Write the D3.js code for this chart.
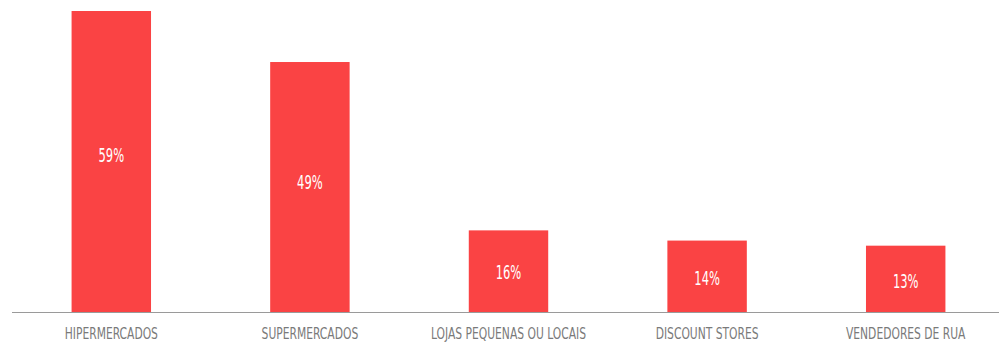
<!DOCTYPE html>
<html>
<head>
<meta charset="utf-8">
<script src="https://cdn.jsdelivr.net/npm/d3@7"></script>
<style>
  html, body { margin: 0; padding: 0; background: #fff; }
  #chart { width: 999px; height: 343px; }
  text { font-family: "DejaVu Sans Condensed", "DejaVu Sans", sans-serif; }
</style>
</head>
<body>
<div id="chart"></div>
<script>
// dados
const categories = ['HIPERMERCADOS', 'SUPERMERCADOS', 'LOJAS PEQUENAS OU LOCAIS', 'DISCOUNT STORES', 'VENDEDORES DE RUA'];
const values = [59, 49, 16, 14, 13];

const width = 999;
const height = 343;
const baseline = 312;

const svg = d3.select('#chart')
  .append('svg')
  .attr('width', width)
  .attr('height', height);

const x = d3.scaleBand()
  .domain(categories)
  .range([12, 1005])
  .paddingInner(0.6)
  .paddingOuter(0.3);

const y = d3.scaleLinear()
  .domain([0, 59])
  .range([baseline, 11]);

const rows = categories.map((c, i) => ({ name: c, value: values[i] }));
const cx = d => x(d.name) + x.bandwidth() / 2;

// barras
svg.append('g')
  .selectAll('rect')
  .data(rows)
  .join('rect')
  .attr('x', d => x(d.name))
  .attr('y', d => y(d.value))
  .attr('width', x.bandwidth())
  .attr('height', d => y(0) - y(d.value))
  .attr('fill', '#fa4344');

// eixo
svg.append('line')
  .attr('x1', 12)
  .attr('x2', width)
  .attr('y1', baseline + 0.5)
  .attr('y2', baseline + 0.5)
  .attr('stroke', '#9a9a9a')
  .attr('stroke-width', 1.2);

// valores (fonte estreita simulada com scaleX)
svg.append('g')
  .selectAll('text')
  .data(rows)
  .join('text')
  .attr('transform', d => {
    const h = y(0) - y(d.value);
    return `translate(${cx(d)},${y(d.value) + h * 0.464 + 4}) scale(0.64,1)`;
  })
  .attr('text-anchor', 'middle')
  .attr('dominant-baseline', 'central')
  .attr('fill', '#fff')
  .style('font-size', '20px')
  .text(d => d.value + '%');

// rótulos
svg.append('g')
  .selectAll('text')
  .data(rows)
  .join('text')
  .attr('transform', d => `translate(${cx(d)},339) scale(0.77,1)`)
  .attr('text-anchor', 'middle')
  .attr('fill', '#7a7a7a')
  .style('font-size', '15.5px')
  .text(d => d.name);
</script>
</body>
</html>
